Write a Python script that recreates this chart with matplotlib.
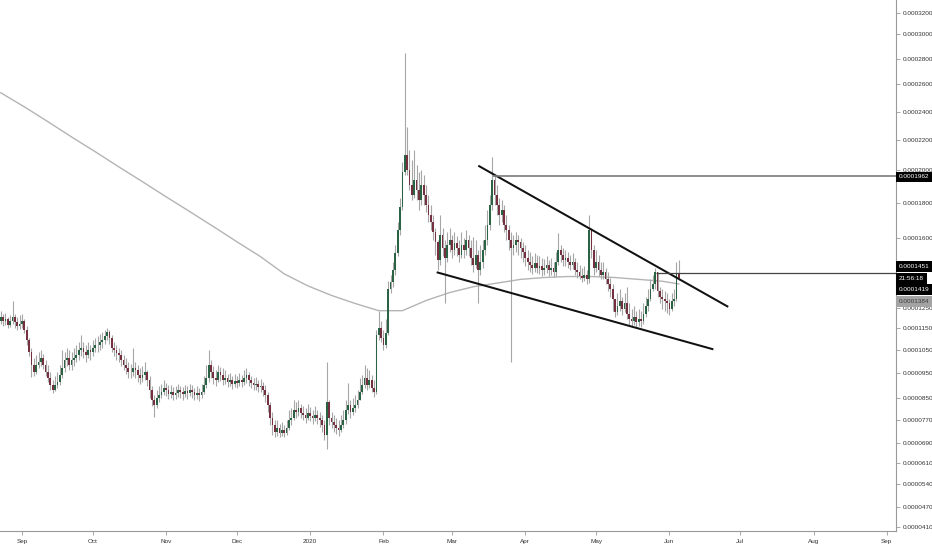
import numpy as np
import pandas as pd
import matplotlib
matplotlib.use("Agg")
import matplotlib.pyplot as plt
import matplotlib.dates as mdates
from matplotlib.ticker import FixedLocator, FuncFormatter

plt.rcParams['font.family'] = ['Liberation Sans', 'DejaVu Sans']
FS = 4.6

# ---------------- data (prices in units of 1e-7) ----------------
UNIT = 1e-7
start_date = "2019-08-23"
first_open = 1183

closes = [
    1205, 1183, 1194, 1167, 1183, 1205, 1178, 1161, 1172, 1183,
    1141, 1095, 1041, 985, 954, 985, 998, 1015, 985, 954,
    930, 902, 882, 902, 914, 942, 972, 1007, 1015, 985,
    1007, 1015, 1028, 1050, 1059, 1041, 1028, 1050, 1041, 1059,
    1073, 1073, 1086, 1095, 1114, 1132, 1105, 1059, 1050, 1037,
    1028, 1007, 985, 972, 954, 954, 972, 963, 942, 930,
    942, 954, 922, 882, 843, 825, 850, 862, 874, 890,
    882, 866, 874, 862, 870, 882, 874, 866, 878, 870,
    882, 874, 862, 870, 862, 874, 902, 930, 985, 954,
    930, 922, 954, 942, 922, 930, 914, 922, 906, 918,
    910, 922, 914, 930, 942, 922, 910, 902, 906, 894,
    898, 882, 862, 825, 777, 753, 728, 742, 725, 735,
    725, 742, 770, 777, 806, 799, 814, 795, 788, 777,
    795, 784, 777, 788, 777, 770, 753, 718, 836, 777,
    763, 753, 742, 735, 753, 770, 806, 825, 799, 814,
    825, 843, 874, 902, 930, 902, 922, 890, 874, 1118,
    1150, 1105, 1073, 1127, 1357, 1395, 1463, 1536, 1646, 1777,
    1988, 2100, 2000, 1909, 1848, 1939, 1879, 1818, 1909, 1848,
    1789, 1731, 1691, 1634, 1583, 1506, 1617, 1557, 1514, 1570,
    1591, 1549, 1579, 1557, 1527, 1570, 1549, 1591, 1557, 1514,
    1484, 1527, 1463, 1497, 1549, 1591, 1674, 1789, 1939, 1848,
    1789, 1731, 1760, 1674, 1646, 1591, 1557, 1570, 1591, 1583,
    1557, 1540, 1514, 1497, 1484, 1471, 1493, 1471, 1480, 1463,
    1471, 1484, 1463, 1471, 1455, 1497, 1549, 1527, 1506, 1514,
    1497, 1484, 1497, 1463, 1455, 1433, 1422, 1438, 1411, 1646,
    1549, 1471, 1497, 1463, 1438, 1455, 1411, 1384, 1357, 1302,
    1232, 1259, 1286, 1248, 1275, 1221, 1194, 1183, 1205, 1178,
    1194, 1183, 1221, 1259, 1302, 1357, 1384, 1455, 1346, 1313,
    1302, 1291, 1275, 1248, 1286, 1302, 1444, 1419,
]

highs = [
    1237, 1221, 1226, 1205, 1216, 1286, 1221, 1205, 1216, 1221,
    1194, 1161, 1105, 1059, 1015, 1028, 1041, 1050, 1033, 1007,
    985, 954, 922, 938, 954, 985, 1050, 1041, 1059, 1050,
    1041, 1059, 1073, 1086, 1118, 1086, 1073, 1086, 1073, 1095,
    1105, 1114, 1123, 1132, 1141, 1150, 1141, 1118, 1086, 1073,
    1059, 1050, 1028, 1015, 998, 989, 1059, 998, 985, 972,
    980, 998, 963, 938, 898, 862, 882, 898, 906, 922,
    910, 902, 902, 894, 898, 906, 898, 894, 902, 898,
    906, 902, 890, 898, 890, 906, 938, 985, 1050, 1007,
    980, 963, 985, 976, 972, 963, 946, 950, 938, 946,
    938, 950, 942, 963, 972, 954, 938, 930, 934, 922,
    926, 914, 902, 874, 836, 799, 770, 770, 756, 763,
    753, 770, 806, 814, 843, 836, 843, 829, 821, 814,
    829, 818, 806, 821, 806, 799, 788, 770, 998, 843,
    799, 788, 777, 770, 788, 806, 843, 910, 843, 850,
    862, 882, 930, 942, 985, 972, 963, 942, 922, 1141,
    1237, 1183, 1141, 1194, 1400, 1438, 1497, 1570, 1691, 1830,
    2053, 2848, 2293, 2133, 2067, 2133, 2033, 1988, 2000, 1970,
    1909, 1848, 1789, 1731, 1657, 1591, 1731, 1657, 1591, 1634,
    1657, 1617, 1634, 1611, 1591, 1634, 1600, 1646, 1617, 1591,
    1605, 1591, 1549, 1570, 1591, 1674, 1760, 1848, 2087, 1970,
    1909, 1830, 1818, 1789, 1731, 1674, 1634, 1617, 1634, 1617,
    1600, 1583, 1570, 1549, 1540, 1523, 1536, 1527, 1523, 1514,
    1510, 1523, 1506, 1514, 1497, 1540, 1628, 1570, 1557, 1549,
    1540, 1527, 1536, 1514, 1497, 1484, 1471, 1480, 1463, 1731,
    1657, 1570, 1549, 1527, 1497, 1497, 1471, 1455, 1422, 1384,
    1302, 1330, 1357, 1313, 1330, 1368, 1275, 1248, 1259, 1237,
    1248, 1237, 1275, 1313, 1357, 1411, 1438, 1471, 1455, 1368,
    1357, 1346, 1330, 1302, 1330, 1357, 1497, 1506,
]

lows = [
    1172, 1161, 1167, 1150, 1156, 1172, 1150, 1141, 1145, 1150,
    1127, 1073, 1024, 934, 938, 946, 972, 980, 967, 938,
    914, 882, 870, 878, 890, 902, 930, 954, 980, 963,
    963, 980, 998, 1007, 1024, 1015, 998, 1015, 1007, 1024,
    1041, 1041, 1050, 1059, 1077, 1095, 1077, 1041, 1024, 1007,
    998, 980, 963, 946, 930, 930, 938, 930, 914, 906,
    914, 922, 898, 850, 821, 781, 814, 836, 850, 862,
    858, 847, 850, 843, 847, 854, 850, 843, 854, 847,
    858, 850, 843, 847, 839, 850, 866, 890, 914, 930,
    906, 898, 914, 918, 902, 906, 894, 898, 886, 894,
    890, 898, 894, 902, 910, 898, 890, 882, 882, 874,
    874, 858, 836, 799, 753, 718, 711, 714, 711, 714,
    711, 718, 735, 753, 770, 777, 784, 777, 770, 760,
    770, 767, 756, 767, 756, 746, 728, 700, 666, 753,
    742, 728, 721, 714, 728, 742, 756, 792, 777, 788,
    799, 814, 843, 866, 890, 882, 890, 874, 854, 866,
    1095, 1086, 1050, 1059, 1118, 1330, 1368, 1438, 1523, 1617,
    1760, 1970, 1970, 1879, 1818, 1830, 1818, 1760, 1789, 1789,
    1749, 1691, 1646, 1591, 1527, 1463, 1484, 1523, 1275, 1497,
    1540, 1514, 1527, 1523, 1497, 1514, 1514, 1527, 1523, 1484,
    1455, 1471, 1275, 1438, 1471, 1527, 1570, 1646, 1760, 1789,
    1731, 1674, 1691, 1634, 1591, 1549, 998, 1527, 1540, 1527,
    1514, 1497, 1480, 1463, 1455, 1444, 1455, 1450, 1444, 1433,
    1438, 1450, 1433, 1438, 1428, 1433, 1484, 1497, 1480, 1480,
    1471, 1463, 1467, 1438, 1422, 1411, 1395, 1400, 1384, 1389,
    1514, 1438, 1455, 1433, 1411, 1411, 1384, 1346, 1313, 1237,
    1205, 1216, 1237, 1216, 1232, 1194, 1167, 1156, 1167, 1150,
    1161, 1156, 1172, 1205, 1237, 1291, 1346, 1357, 1313, 1275,
    1248, 1237, 1226, 1216, 1237, 1259, 1291, 1405,
]

# moving average (grey line), sampled on day offsets from start_date
ma_days = [0, 10, 20, 30, 40, 50, 60, 70, 80, 90, 100, 110, 120, 130, 140,
           150, 160, 170, 180, 190, 200, 210, 220, 230, 240, 250, 260, 270, 280, 287]
ma_values = [2536, 2436, 2329, 2221, 2120, 2020, 1927, 1836, 1749, 1663,
             1583, 1518, 1444, 1373, 1319, 1275, 1237, 1237, 1291, 1335,
             1368, 1389, 1411, 1422, 1428, 1428, 1422, 1411, 1400, 1384]

# drawn trendlines: (day offset, price) endpoints
upper_line_days = [202.1, 307.9]
upper_line_prices = [2028, 1257]
lower_line_days = [184.5, 301.6]
lower_line_prices = [1453, 1053]

# horizontal levels: price, start day offset
level_prices = [1962, 1451]
level_start_days = [208.5, 277.5]
last_price = 1419
ma_last = 1384
countdown = "21:56:18"

price_ticks = [410, 470, 540, 610, 690, 770, 850, 950, 1050, 1150, 1250,
               1600, 1800, 2000, 2200, 2400, 2600, 2800, 3000, 3200]
month_labels = ["Sep", "Oct", "Nov", "Dec", "2020", "Feb", "Mar", "Apr",
                "May", "Jun", "Jul", "Aug", "Sep"]

# ---------------- price scale (calibrated to the chart's axis) ----------------
SCALE_V = np.array([200, 410, 470, 540, 610, 690, 770, 850, 950, 1050, 1150,
                    1451, 1600, 1800, 2000, 2200, 2400, 2600, 2800, 3000, 3200, 5000]) * UNIT
SCALE_PX = np.array([631.8, 527, 507, 484, 463, 443, 420, 398, 373, 350, 328,
                     272.7, 238, 203, 170, 140, 112, 84, 59, 34, 13, -132])
_lv = np.log(SCALE_V)
_neg = -SCALE_PX


def fwd(v):
    v = np.clip(np.asarray(v, dtype=float), 1e-12, None)
    return np.interp(np.log(v), _lv, _neg)


def inv(t):
    return np.exp(np.interp(np.asarray(t, dtype=float), _neg, _lv))


# ---------------- build arrays ----------------
c = np.array(closes, dtype=float) * UNIT
o = np.concatenate([[first_open], closes[:-1]]).astype(float) * UNIT
h = np.maximum(np.array(highs, dtype=float) * UNIT, np.maximum(o, c))
l = np.minimum(np.array(lows, dtype=float) * UNIT, np.minimum(o, c))
t0 = mdates.date2num(pd.Timestamp(start_date))
x = t0 + np.arange(len(c))

W, H = 932, 550
fig = plt.figure(figsize=(W / 100, H / 100), dpi=100)
fig.patch.set_facecolor("white")
ax = fig.add_axes([0, 19 / H, 896 / W, 1 - 19 / H])
ax.set_yscale("function", functions=(fwd, inv))

up = c >= o
GREEN = "#2a6343"
RED = "#74303e"
WICK = "#a6a6a6"

ax.vlines(x, l, h, color=WICK, lw=0.8, zorder=2)
bottoms = np.minimum(o, c)
heights = np.maximum(np.abs(c - o), 1e-9)
ax.bar(x[up], heights[up], bottom=bottoms[up], width=0.74, color=GREEN,
       linewidth=0, zorder=3)
ax.bar(x[~up], heights[~up], bottom=bottoms[~up], width=0.74, color=RED,
       linewidth=0, zorder=3)

# moving average
ax.plot(t0 + np.array(ma_days), np.array(ma_values) * UNIT, color="#b4b4b4",
        lw=1.0, zorder=1)

# trendlines
ax.plot(t0 + np.array(upper_line_days), np.array(upper_line_prices) * UNIT,
        color="#111111", lw=1.45, zorder=4, solid_capstyle="butt")
ax.plot(t0 + np.array(lower_line_days), np.array(lower_line_prices) * UNIT,
        color="#111111", lw=1.45, zorder=4, solid_capstyle="butt")

xmin, xmax = t0 - 0.3, t0 + 378.9
ax.hlines(level_prices[0] * UNIT, t0 + level_start_days[0], xmax,
          color="#7a7a7a", lw=1.2, zorder=4)
ax.hlines(level_prices[1] * UNIT, t0 + level_start_days[1], xmax,
          color="#444444", lw=0.9, zorder=4)

ax.set_xlim(xmin, xmax)
ax.set_ylim(399 * UNIT, 3331 * UNIT)

# axes styling
for s in ["top", "left"]:
    ax.spines[s].set_visible(False)
for s in ["right", "bottom"]:
    ax.spines[s].set_color("#9a9a9a")
    ax.spines[s].set_linewidth(0.8)

ax.yaxis.tick_right()
ax.yaxis.set_major_locator(FixedLocator([v * UNIT for v in price_ticks]))
ax.yaxis.set_major_formatter(FuncFormatter(lambda v, p: f"{v:.7f}"))
ax.yaxis.set_minor_locator(FixedLocator([]))
ax.tick_params(axis="y", which="major", direction="out", length=3, width=0.6,
               color="#9a9a9a", labelsize=FS, labelcolor="#333333", pad=2)

months = pd.date_range("2019-09-01", "2020-09-01", freq="MS")
ax.set_xticks(mdates.date2num(months))
ax.set_xticklabels(month_labels)
ax.tick_params(axis="x", direction="out", length=3, width=0.6, color="#9a9a9a",
               labelsize=FS, labelcolor="#333333", pad=3)
ax.grid(False)
ax.set_facecolor("white")


# price tags on the right scale
def tag(ypix, text, fc="black", tc="white"):
    fig.text(899 / W, 1 - ypix / H, text, fontsize=FS, color=tc, ha="left",
             va="center", zorder=10,
             bbox=dict(boxstyle="square,pad=0.45", fc=fc, ec="none"))


tag(177, f"{level_prices[0] * UNIT:.7f}")
tag(266.5, f"{level_prices[1] * UNIT:.7f}")
tag(278.5, countdown)
tag(289.5, f"{last_price * UNIT:.7f}")
tag(301.5, f"{ma_last * UNIT:.7f}", fc="#a3a3a3", tc="#3c3c3c")

fig.savefig("out.png", dpi=100, facecolor="white")
